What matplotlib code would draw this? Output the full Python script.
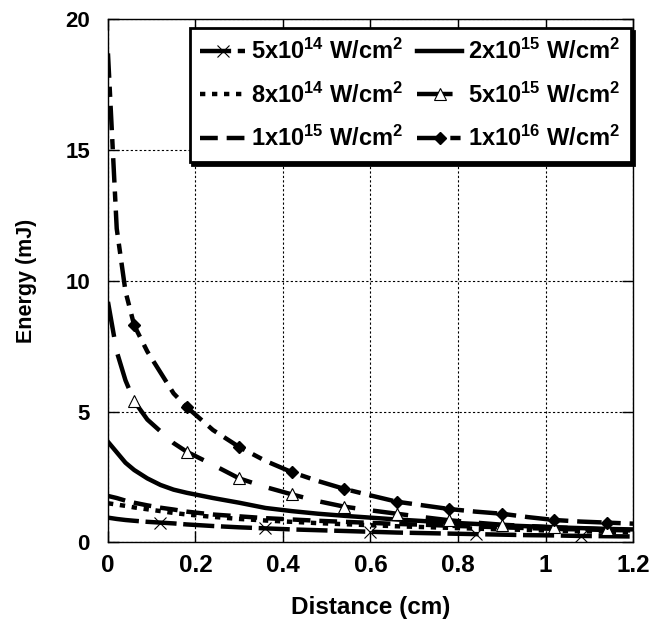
import matplotlib
matplotlib.use("Agg")
import matplotlib.pyplot as plt
from matplotlib.ticker import FormatStrFormatter

plt.rcParams['font.family'] = ['Liberation Sans', 'DejaVu Sans']
plt.rcParams['font.weight'] = 'bold'
plt.rcParams['mathtext.fontset'] = 'custom'
plt.rcParams['mathtext.rm'] = 'Liberation Sans:bold'
plt.rcParams['mathtext.it'] = 'Liberation Sans:bold'
plt.rcParams['mathtext.bf'] = 'Liberation Sans:bold'
plt.rcParams['mathtext.default'] = 'rm'

# ---- data ----
distance = [0.0, 0.02, 0.04, 0.06, 0.09, 0.12, 0.15, 0.18, 0.24, 0.30, 0.36, 0.42,
            0.48, 0.54, 0.60, 0.66, 0.72, 0.78, 0.84, 0.90, 0.96, 1.02, 1.08, 1.14, 1.20]

e_5e14 = [0.95, 0.90, 0.86, 0.83, 0.79, 0.76, 0.73, 0.69, 0.63, 0.58, 0.54, 0.50,
          0.47, 0.44, 0.41, 0.38, 0.36, 0.34, 0.32, 0.30, 0.28, 0.27, 0.25, 0.24, 0.23]
e_8e14 = [1.50, 1.45, 1.40, 1.34, 1.27, 1.20, 1.13, 1.07, 0.98, 0.90, 0.84, 0.79,
          0.74, 0.70, 0.66, 0.62, 0.59, 0.56, 0.53, 0.50, 0.48, 0.45, 0.43, 0.41, 0.39]
e_1e15 = [1.78, 1.70, 1.60, 1.52, 1.42, 1.33, 1.26, 1.18, 1.07, 1.00, 0.93, 0.88,
          0.83, 0.79, 0.75, 0.71, 0.68, 0.64, 0.61, 0.58, 0.55, 0.52, 0.50, 0.48, 0.46]
e_2e15 = [3.85, 3.45, 3.05, 2.77, 2.45, 2.20, 2.02, 1.90, 1.70, 1.52, 1.32, 1.20,
          1.10, 1.02, 0.95, 0.88, 0.82, 0.76, 0.71, 0.66, 0.62, 0.58, 0.55, 0.52, 0.50]
e_5e15 = [9.20, 7.30, 6.20, 5.40, 4.70, 4.25, 3.80, 3.47, 2.97, 2.45, 2.12, 1.84,
          1.58, 1.37, 1.23, 1.10, 0.97, 0.85, 0.76, 0.68, 0.63, 0.58, 0.54, 0.50, 0.47]
e_1e16 = [18.70, 12.00, 9.60, 8.30, 7.30, 6.50, 5.70, 5.18, 4.30, 3.65, 3.12, 2.69,
          2.35, 2.05, 1.80, 1.56, 1.42, 1.28, 1.18, 1.10, 0.97, 0.86, 0.80, 0.76, 0.72]

labels = [r'5x10$^{14}$ W/cm$^{2}$', r'8x10$^{14}$ W/cm$^{2}$', r'1x10$^{15}$ W/cm$^{2}$',
          r'2x10$^{15}$ W/cm$^{2}$', r'5x10$^{15}$ W/cm$^{2}$', r'1x10$^{16}$ W/cm$^{2}$']

x_ticks = [0, 0.2, 0.4, 0.6, 0.8, 1.0, 1.2]
y_ticks = [0, 5, 10, 15, 20]

# marker positions (indices into distance)
mk_x = [5, 10, 14, 18, 22]          # 0.12, 0.36, 0.60, 0.84, 1.08
mk_tri = [3, 7, 9, 11, 13, 15, 17, 19, 21, 23]   # 0.06 ... 1.14

fig = plt.figure(figsize=(6.52, 6.26), dpi=100)
ax = fig.add_axes([0.1656, 0.1334, 0.8053, 0.8356])

lw = 3.2
ax.plot(distance, e_5e14, color='black', lw=lw, dashes=(7, 1.5), marker='x',
        markevery=mk_x, ms=9, mew=0.8, label=labels[0])
ax.plot(distance, e_8e14, color='black', lw=lw, dashes=(1.2, 1.5), label=labels[1])
ax.plot(distance, e_1e15, color='black', lw=lw, dashes=(4, 2), label=labels[2])
ax.plot(distance, e_2e15, color='black', lw=lw, ls='-', label=labels[3])
ax.plot(distance, e_5e15, color='black', lw=lw, dashes=(8, 4), marker='^',
        markevery=mk_tri, ms=8, mfc='white', mec='black', mew=0.8, label=labels[4])
ax.plot(distance, e_1e16, color='black', lw=lw, dashes=(5.5, 2, 2.3, 2), marker='D',
        markevery=mk_tri, ms=6, mfc='black', mec='black', label=labels[5])

ax.set_xlim(0, 1.2)
ax.set_ylim(0, 20)
ax.set_xticks(x_ticks)
ax.set_yticks(y_ticks)
ax.xaxis.set_major_formatter(FormatStrFormatter('%g'))
ax.grid(True, color='black', lw=0.8, linestyle=(0, (2, 2)))
ax.set_axisbelow(True)
ax.tick_params(direction='in', length=8, width=1, top=True, right=True)
ax.tick_params(axis='x', labelsize=17.5, pad=8)
ax.tick_params(axis='y', labelsize=16, pad=13)
for s in ax.spines.values():
    s.set_color('black')
    s.set_linewidth(1)

ax.set_xlabel('Distance (cm)', fontsize=17.5, fontweight='bold', labelpad=14)
ax.set_ylabel('Energy (mJ)', fontsize=15.5, fontweight='bold', labelpad=20)

leg = ax.legend(ncol=2, loc='upper right', bbox_to_anchor=(0.9678, 0.955),
                bbox_transform=fig.transFigure, borderaxespad=0, fontsize=17,
                frameon=True, fancybox=False, edgecolor='black', framealpha=1,
                shadow={'color': 'black', 'alpha': 1}, handlelength=1.9,
                handletextpad=0.25, columnspacing=0.6, labelspacing=0.78,
                borderpad=0.45)
leg.get_frame().set_linewidth(2)

fig.savefig('out.png', dpi=100)
